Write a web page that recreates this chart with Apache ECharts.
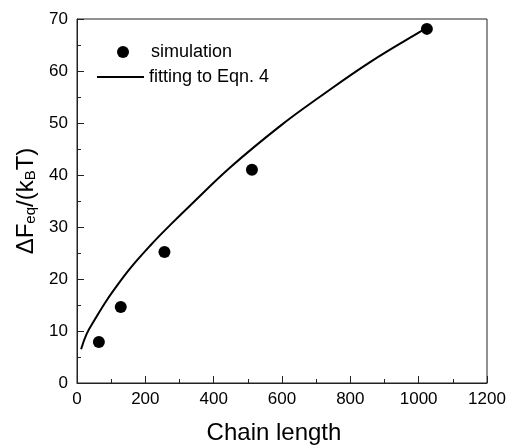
<!DOCTYPE html>
<html>
<head>
<meta charset="utf-8">
<script src="https://cdn.jsdelivr.net/npm/echarts@6/dist/echarts.min.js"></script>
<style>
html,body{margin:0;padding:0;background:#fff;}
#chart{width:507px;height:446px;}
</style>
</head>
<body>
<div id="chart"></div>
<script>
// Data
var chainLength = [64, 128, 256, 512, 1024];
var simulation = [7.9, 14.6, 25.2, 41.0, 68.1];
var fitX = [12, 28, 53, 80, 107, 155, 214, 273, 332, 449, 596, 710, 860, 1006, 1024];
var fitY = [6.5, 9.4, 12.3, 15.2, 17.8, 22.0, 26.4, 30.4, 34.2, 41.5, 49.5, 55.0, 61.8, 67.6, 68.2];
var xTicks = [0, 200, 400, 600, 800, 1000, 1200];
var yTicks = [0, 10, 20, 30, 40, 50, 60, 70];

var FONT = "'Liberation Sans', Arial, sans-serif";
var scatterData = chainLength.map(function (x, i) { return [x, simulation[i]]; });
var fitData = fitX.map(function (x, i) { return [x, fitY[i]]; });

var chart = echarts.init(document.getElementById('chart'), null, {renderer: 'canvas'});
chart.setOption({
  animation: false,
  backgroundColor: '#fff',
  grid: {left: 77, right: 20, top: 19, bottom: 63, containLabel: false, outerBoundsMode: 'none',
         show: true, borderColor: '#222', borderWidth: 1, backgroundColor: 'transparent'},
  legend: [
    {
      data: [{name: 'simulation', icon: 'circle'}],
      left: 117, top: 43, orient: 'vertical', padding: 0,
      itemWidth: 12, itemHeight: 12,
      itemStyle: {color: '#000', opacity: 1},
      textStyle: {fontFamily: FONT, fontSize: 18, color: '#000', padding: [0, 0, 0, 17]},
      selectedMode: false
    },
    {
      data: [{name: 'fitting to Eqn. 4', icon: 'rect'}],
      left: 97, top: 68, orient: 'vertical', padding: 0,
      itemWidth: 47, itemHeight: 2,
      itemStyle: {color: '#000'},
      textStyle: {fontFamily: FONT, fontSize: 18, color: '#000'},
      selectedMode: false
    }
  ],
  xAxis: {
    type: 'value', min: xTicks[0], max: xTicks[xTicks.length - 1], interval: 200,
    name: 'Chain length', nameLocation: 'middle', nameGap: 38,
    nameTextStyle: {fontFamily: FONT, fontSize: 24, color: '#000', padding: [0, 16, 0, 0]},
    axisLine: {show: true, lineStyle: {color: '#222', width: 1}},
    axisTick: {show: true, inside: true, length: 7, lineStyle: {color: '#222'}},
    minorTick: {show: true, splitNumber: 2, length: 4, lineStyle: {color: '#222'}},
    splitLine: {show: false},
    axisLabel: {fontFamily: FONT, fontSize: 17, color: '#000', margin: 8, formatter: function (v) { return String(v); }}
  },
  yAxis: {
    type: 'value', min: yTicks[0], max: yTicks[yTicks.length - 1], interval: 10,
    name: '{m|ΔF}{s|eq}{m|/(k}{s|B}{m|T)}', nameLocation: 'middle', nameGap: 39,
    nameTextStyle: {
      fontFamily: FONT, color: '#000',
      rich: {
        m: {fontFamily: FONT, fontSize: 24, lineHeight: 24, color: '#000'},
        s: {fontFamily: FONT, fontSize: 15, lineHeight: 15, padding: [17, 0, 0, 0], verticalAlign: 'bottom', color: '#000'}
      }
    },
    axisLine: {show: true, lineStyle: {color: '#222', width: 1}},
    axisTick: {show: true, inside: true, length: 7, lineStyle: {color: '#222'}},
    minorTick: {show: true, splitNumber: 2, length: 4, lineStyle: {color: '#222'}},
    splitLine: {show: false},
    axisLabel: {fontFamily: FONT, fontSize: 17, color: '#000', margin: 9, formatter: function (v) { return String(v); }}
  },
  series: [
    {
      name: 'simulation', type: 'scatter', data: scatterData,
      symbol: 'circle', symbolSize: 12, itemStyle: {color: '#000', opacity: 1}, z: 3
    },
    {
      name: 'fitting to Eqn. 4', type: 'line', data: fitData,
      showSymbol: false, symbol: 'none', smooth: 0.4,
      lineStyle: {color: '#000', width: 2}, itemStyle: {color: '#000'}, z: 2
    }
  ]
});
</script>
</body>
</html>
